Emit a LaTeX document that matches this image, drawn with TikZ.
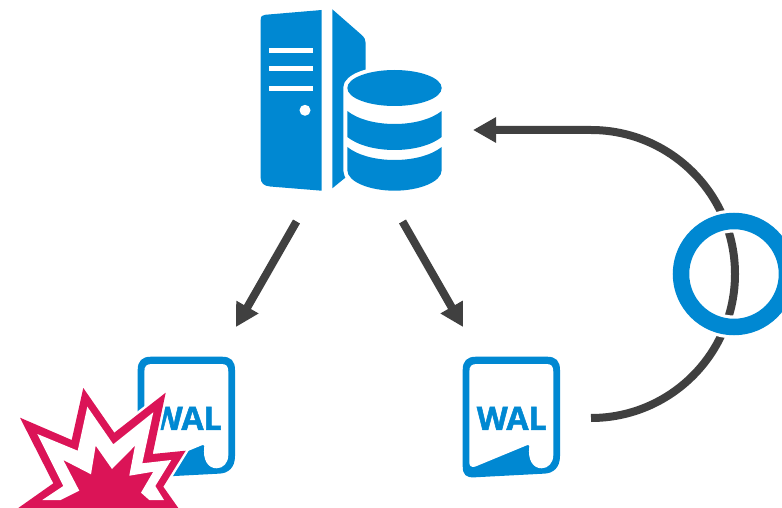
\documentclass[tikz,border=0pt]{standalone}
\usepackage{fontspec}
\setmainfont{Open Sans}
\usetikzlibrary{arrows.meta}
\definecolor{brandblue}{HTML}{0088D2}
\definecolor{crash}{HTML}{DB1457}
\definecolor{wire}{HTML}{404040}
\tikzset{
  blueshape/.style={fill=brandblue,draw=none},
  whiteshape/.style={fill=white,draw=none},
  flow/.style={draw=wire,line width=8pt,-{Triangle[length=23pt,width=24pt]}},
  waldoc/.pic={
    \path[blueshape] (462.7,370) .. controls (462.7,361) and (467,356.7) .. (476,356.7) -- (547,356.7)
      .. controls (556,356.7) and (560,361) .. (560,370) -- (560,456)
      .. controls (560,468) and (553,473) .. (545,473.6) -- (475,477.3)
      .. controls (466,477.8) and (462.7,475) .. (462.7,466) -- cycle;
    \path[whiteshape] (469.3,372) .. controls (469.3,366) and (471.5,364) .. (477,364) -- (546,364)
      .. controls (551.5,364) and (553.3,366) .. (553.3,372) -- (553.3,455)
      .. controls (553.3,463) and (548,468.3) .. (541.7,468.3)
      .. controls (533,468.3) and (527.5,460) .. (529.3,446.5)
      .. controls (529.3,445) and (528.5,444.6) .. (527,445.2)
      -- (475,466.7) .. controls (471,467.5) and (469.3,466) .. (469.3,462) -- cycle;
    \node[text=brandblue,font=\bfseries\fontsize{32}{32}\selectfont,inner sep=0pt] at (511.7,418.3) {\special{pdf:literal 0.5 w 2 Tr}WAL\special{pdf:literal 0 Tr}};
  }
}
\begin{document}
\begin{tikzpicture}[x=1pt,y=-1pt]
\useasboundingbox (0,0) rectangle (782,508);
\begin{scope}
\clip (0,0) rectangle (782,508);
% named anchors
\coordinate (serverL) at (296.5,221.5);
\coordinate (serverR) at (402.5,221.5);
\coordinate (walLtop) at (236,327);
\coordinate (walRtop) at (463,327);
\coordinate (walRside) at (591,418);
\coordinate (arcTop) at (591,130);
\coordinate (serverSide) at (473,130);
\coordinate (ringC) at (734,274);
% server
\path[blueshape] (260.7,20) .. controls (260.7,16.5) and (262,15) .. (265,14.8) -- (321.7,10) -- (321.7,190.7) -- (270,186.5)
  .. controls (264,186) and (260.7,183) .. (260.7,178) -- cycle;
\path[whiteshape] (269,47.7) rectangle (313.3,53.3);
\path[whiteshape] (269,65.7) rectangle (313.3,71.3);
\path[whiteshape] (269,85.7) rectangle (313.3,91.3);
\path[whiteshape] (305,110.3) circle (5.5);
\path[blueshape] (332.3,9.3) -- (361.7,35) .. controls (364.5,37.5) and (365.7,40) .. (365.7,43.3) -- (365.7,120) -- (345.3,177.7) -- (332.3,188.3) -- cycle;
% database halo
\path[fill=white,draw=white,line width=8pt] (347.3,88) .. controls (347.3,78) and (368.5,70) .. (394.5,70)
  .. controls (420.5,70) and (441.7,78) .. (441.7,88) -- (441.7,170)
  .. controls (441.7,182) and (419,190.7) .. (394.5,190.7)
  .. controls (370,190.7) and (347.3,182) .. (347.3,170) -- cycle;
% database
\path[blueshape] (347.3,88) .. controls (347.3,78) and (368.5,70) .. (394.5,70)
  .. controls (420.5,70) and (441.7,78) .. (441.7,88)
  .. controls (441.7,98) and (420.5,106) .. (394.5,106)
  .. controls (368.5,106) and (347.3,98) .. (347.3,88) -- cycle;
\path[blueshape] (347.3,111) .. controls (358,119.5) and (376,124) .. (394.5,124)
  .. controls (413,124) and (431,119.5) .. (441.7,111) -- (441.7,137)
  .. controls (431,145.5) and (413,150) .. (394.5,150)
  .. controls (376,150) and (358,145.5) .. (347.3,137) -- cycle;
\path[blueshape] (347.3,147) .. controls (358,155.5) and (376,160) .. (394.5,160)
  .. controls (413,160) and (431,155.5) .. (441.7,147) -- (441.7,170)
  .. controls (441.7,182) and (419,190.7) .. (394.5,190.7)
  .. controls (370,190.7) and (347.3,182) .. (347.3,170) -- cycle;
% documents
\pic at (0,0) {waldoc};
\pic at (-325,0) {waldoc};
% connectors
\draw[flow] (serverL) -- (walLtop);
\draw[flow] (serverR) -- (walRtop);
\draw[flow] (walRside) .. controls (670.5,418) and (735,353.5) .. (735,274)
  .. controls (735,194.5) and (670.5,130) .. (arcTop) -- (serverSide);
% ring
\draw[white,line width=23pt] (ringC) circle (53);
\draw[brandblue,line width=16.5pt] (ringC) circle (53);
% explosion
\path[fill=crash,draw=white,line width=5pt,miter limit=10]
  (18.3,508) -- (53.3,483.3) -- (20,417.7) -- (71.7,440) -- (83.3,388) -- (114.3,432.7)
  -- (165.7,392.7) -- (152.7,454) -- (185.7,450.7) -- (163.3,486.7) -- (178.3,508) -- cycle;
\path[crash,fill=crash] (18.3,508) -- (53.3,483.3) -- (20,417.7) -- (71.7,440) -- (83.3,388) -- (114.3,432.7)
  -- (165.7,392.7) -- (152.7,454) -- (185.7,450.7) -- (163.3,486.7) -- (178.3,508) -- cycle;
\path[whiteshape] (42.3,500) -- (63.3,486) -- (37.3,434) -- (77.7,450.7) -- (87.3,406.7) -- (113.3,444.3)
  -- (153.3,412.3) -- (142.3,463.3) -- (171.3,460) -- (155.3,486) -- (164,500) -- (149.3,500)
  -- (141,492.7) -- (153.3,471.7) -- (129.3,475.7) -- (135,445.7) -- (112,469) -- (95.7,445.7)
  -- (91,474.3) -- (63.3,460) -- (79.3,490.7) -- (60.7,500) -- cycle;
\end{scope}
\end{tikzpicture}
\end{document}
